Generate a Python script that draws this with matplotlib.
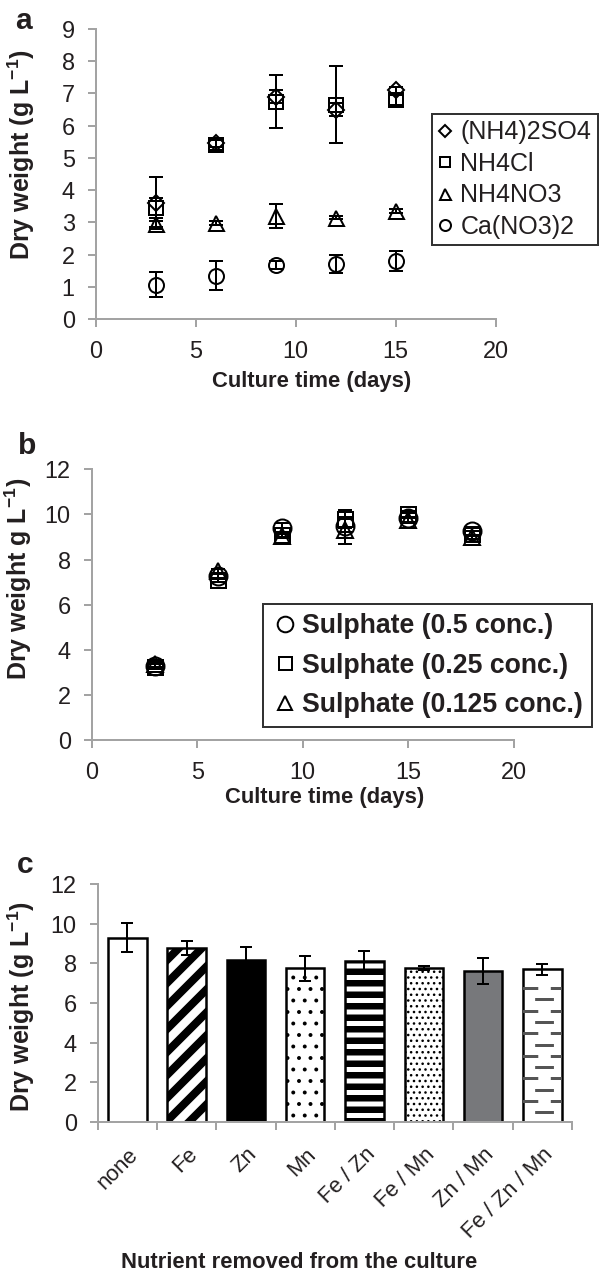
import matplotlib
matplotlib.use('Agg')
import matplotlib.pyplot as plt
from matplotlib.lines import Line2D

DPI = 138
PT = 72 / DPI          # one pixel in points
W, H = 600, 1277

plt.rcParams['font.family'] = ['Liberation Sans', 'DejaVu Sans']
plt.rcParams['mathtext.fontset'] = 'custom'
plt.rcParams['mathtext.rm'] = 'Liberation Sans'
plt.rcParams['mathtext.bf'] = 'Liberation Sans:bold'

TXT = '#231f20'
SPINE = '#a3a3a3'

# ---- panel a: nitrogen source ----
days_a = [3, 6, 9, 12, 15]
amm_sulf = [3.6, 5.45, 6.9, 6.5, 7.1]
amm_sulf_err = [0.8, 0.1, 0.2, 0.2, 0.1]
amm_cl = [3.45, 5.4, 6.75, 6.65, 6.8]
amm_cl_err = [0.3, 0.15, 0.82, 1.19, 0.15]
amm_nit = [2.95, 2.98, 3.2, 3.15, 3.35]
amm_nit_err = [0.1, 0.05, 0.38, 0.05, 0.05]
ca_nit = [1.07, 1.35, 1.67, 1.72, 1.8]
ca_nit_err = [0.4, 0.45, 0.12, 0.28, 0.3]

# ---- panel b: sulphate concentration ----
days_b = [3, 6, 9, 12, 15, 18]
sul_half = [3.3, 7.25, 9.4, 9.5, 9.85, 9.25]
sul_half_err = [0.1, 0.1, 0.2, 0.3, 0.2, 0.15]
sul_quarter = [3.25, 7.1, 9.1, 9.8, 10.0, 9.15]
sul_quarter_err = [0.1, 0.1, 0.1, 0.4, 0.15, 0.1]
sul_eighth = [3.35, 7.5, 9.05, 9.3, 9.75, 9.0]
sul_eighth_err = [0.1, 0.1, 0.1, 0.6, 0.15, 0.1]

# ---- panel c: micronutrient removal ----
nutrients = ['none', 'Fe', 'Zn', 'Mn', 'Fe / Zn', 'Fe / Mn', 'Zn / Mn', 'Fe / Zn / Mn']
dry_c = [9.3, 8.77, 8.15, 7.75, 8.1, 7.75, 7.62, 7.71]
dry_c_err = [0.75, 0.35, 0.65, 0.63, 0.53, 0.1, 0.65, 0.28]


def box(left, top, right, bottom):
    """pixel box -> figure fraction rect"""
    return [left / W, 1 - bottom / H, (right - left) / W, (bottom - top) / H]


def style_axes(ax):
    for s in ['top', 'right']:
        ax.spines[s].set_visible(False)
    for s in ['left', 'bottom']:
        ax.spines[s].set_color(SPINE)
        ax.spines[s].set_linewidth(2 * PT)
    ax.tick_params(direction='out', length=8 * PT, width=2 * PT, color=SPINE,
                   labelcolor=TXT, labelsize=23.5 * PT, pad=13 * PT)


fig = plt.figure(figsize=(W / DPI, H / DPI), dpi=DPI)

ms = 15 * PT
eb = dict(ecolor='black', elinewidth=2 * PT, capsize=3.3 * 13 / 12, capthick=2 * PT,
          linestyle='none', mfc='none', mec='black', mew=2 * PT, ms=ms)

# panel a
ax1 = fig.add_axes(box(95.7, 29, 495.7, 319))
style_axes(ax1)
series_a = [(amm_sulf, amm_sulf_err, 'D', '(NH4)2SO4', 0.8),
            (amm_cl, amm_cl_err, 's', 'NH4Cl', 0.95),
            (amm_nit, amm_nit_err, '^', 'NH4NO3', 1.0),
            (ca_nit, ca_nit_err, 'o', 'Ca(NO3)2', 1.0)]
handles = []
for vals, errs, mk, lab, sc in series_a:
    ax1.errorbar(days_a, vals, yerr=errs, marker=mk, **{**eb, 'ms': ms * sc})
    handles.append(Line2D([], [], marker=mk, ls='none', mfc='none', mec='black',
                          mew=2 * PT, ms=11 * PT * sc, label=lab))
ax1.set_xlim(0, 20)
ax1.set_ylim(0, 9)
ax1.set_xticks(range(0, 21, 5))
ax1.set_yticks(range(0, 10))
ax1.set_xlabel('Culture time (days)', fontsize=22 * PT, fontweight='bold', color=TXT, va='center')
ax1.xaxis.set_label_coords(312 / W, 1 - 382 / H, transform=fig.transFigure)
ax1.set_ylabel(r'Dry weight (g L$^{\mathbf{-1}}$)', fontsize=25 * PT, fontweight='bold', color=TXT, va='center')
ax1.yaxis.set_label_coords(21 / W, 1 - 155 / H, transform=fig.transFigure)
leg = ax1.legend(handles=handles, loc='upper left', bbox_to_anchor=(431.7 / W, 1 - 114 / H),
                 bbox_transform=fig.transFigure, borderaxespad=0, fontsize=25 * PT,
                 frameon=True, fancybox=False, handlelength=0.6, handletextpad=0.3,
                 borderpad=0.25, labelspacing=0.3, labelcolor=TXT)
leg.get_frame().set_edgecolor('black')
leg.get_frame().set_linewidth(2 * PT)
fig.text(24 / W, 1 - 21 / H, 'a', fontsize=30 * PT, fontweight='bold', color=TXT, ha='center', va='center')

# panel b
ax2 = fig.add_axes(box(91.7, 469.3, 513.7, 740))
style_axes(ax2)
series_b = [(sul_half, sul_half_err, 'o', 'Sulphate (0.5 conc.)', 1.2),
            (sul_quarter, sul_quarter_err, 's', 'Sulphate (0.25 conc.)', 1.0),
            (sul_eighth, sul_eighth_err, '^', 'Sulphate (0.125 conc.)', 1.12)]
handles = []
for vals, errs, mk, lab, sc in series_b:
    ax2.errorbar(days_b, vals, yerr=errs, marker=mk, **{**eb, 'ms': ms * sc})
    handles.append(Line2D([], [], marker=mk, ls='none', mfc='none', mec='black',
                          mew=2 * PT, ms=13 * PT * sc, label=lab))
ax2.set_xlim(0, 20)
ax2.set_ylim(0, 12)
ax2.set_xticks(range(0, 21, 5))
ax2.set_yticks(range(0, 13, 2))
ax2.set_xlabel('Culture time (days)', fontsize=22 * PT, fontweight='bold', color=TXT, va='center')
ax2.xaxis.set_label_coords(325 / W, 1 - 798 / H, transform=fig.transFigure)
ax2.set_ylabel(r'Dry weight g L$^{\mathbf{-1}}$)', fontsize=25 * PT, fontweight='bold', color=TXT, va='center')
ax2.yaxis.set_label_coords(18 / W, 1 - 579 / H, transform=fig.transFigure)
leg = ax2.legend(handles=handles, loc='upper left', bbox_to_anchor=(263 / W, 1 - 604 / H),
                 bbox_transform=fig.transFigure, borderaxespad=0,
                 prop={'size': 26.6 * PT, 'weight': 'bold'},
                 frameon=True, fancybox=False, handlelength=0.95, handletextpad=0.15,
                 borderpad=0.35, labelspacing=0.5, labelcolor=TXT)
leg.get_frame().set_edgecolor('black')
leg.get_frame().set_linewidth(2 * PT)
fig.text(27 / W, 1 - 446 / H, 'b', fontsize=30 * PT, fontweight='bold', color=TXT, ha='center', va='center')

# panel c
ax3 = fig.add_axes(box(97.7, 884, 572, 1122))
style_axes(ax3)
x = list(range(len(nutrients)))
faces = ['white', 'white', 'black', 'white', 'white', 'white', '#77787b', 'white']
hatches = [None, '//', None, '..', '--', '....', None, None]
hatch_lw = [1, 8 * PT, 1, 1.6 * PT, 6.5 * PT, 1.4 * PT, 1, 1]
bars = []
for i in x:
    with plt.rc_context({'hatch.linewidth': hatch_lw[i], 'hatch.color': 'black'}):
        b = ax3.bar(x[i], dry_c[i], width=0.65, color=faces[i], edgecolor='black',
                    linewidth=2.5 * PT, hatch=hatches[i], zorder=2)[0]
    if hasattr(b, 'set_hatch_linewidth'):
        b.set_hatch_linewidth(hatch_lw[i])
    bars.append(b)
ax3.errorbar(x, dry_c, yerr=dry_c_err, fmt='none', ecolor='black', elinewidth=2 * PT,
             capsize=3.05, capthick=2 * PT, zorder=3)

# short dash texture for the last bar
ax3.set_ylim(0, 12)
ax3.set_xlim(-0.5, len(nutrients) - 0.5)
px_per_unit = (238 / 12)
last = bars[-1]
yrow = dry_c[-1] - 19 / px_per_unit
k = 0
while yrow > 0:
    off = 0 if k % 2 == 0 else 10 * PT
    ln, = ax3.plot([x[-1] - 0.4, x[-1] + 0.4], [yrow, yrow], color='#555555', lw=3 * PT,
                   linestyle=(off, (12 * PT, 8 * PT)), zorder=2.5, solid_capstyle='butt',
                   dash_capstyle='butt')
    ln.set_clip_path(last)
    yrow -= 11.3 / px_per_unit
    k += 1

ax3.set_yticks(range(0, 13, 2))
ax3.set_xticks(x)
ax3.set_xticklabels(nutrients, rotation=45, ha='right', rotation_mode='anchor')
ax3.set_xticks([i - 0.5 for i in range(len(nutrients) + 1)], minor=True)
ax3.tick_params(axis='x', which='major', length=0, pad=22 * PT, labelsize=22 * PT)
ax3.tick_params(axis='x', which='minor', direction='out', length=8 * PT, width=2 * PT, color=SPINE)
ax3.set_xlabel('Nutrient removed from the culture', fontsize=22 * PT, fontweight='bold', color=TXT, va='center')
ax3.xaxis.set_label_coords(299 / W, 1 - 1262 / H, transform=fig.transFigure)
ax3.set_ylabel(r'Dry weight (g L$^{\mathbf{-1}}$)', fontsize=25 * PT, fontweight='bold', color=TXT, va='center')
ax3.yaxis.set_label_coords(21 / W, 1 - 1007 / H, transform=fig.transFigure)
fig.text(25 / W, 1 - 865 / H, 'c', fontsize=30 * PT, fontweight='bold', color=TXT, ha='center', va='center')

fig.savefig('out.png', dpi=DPI)
